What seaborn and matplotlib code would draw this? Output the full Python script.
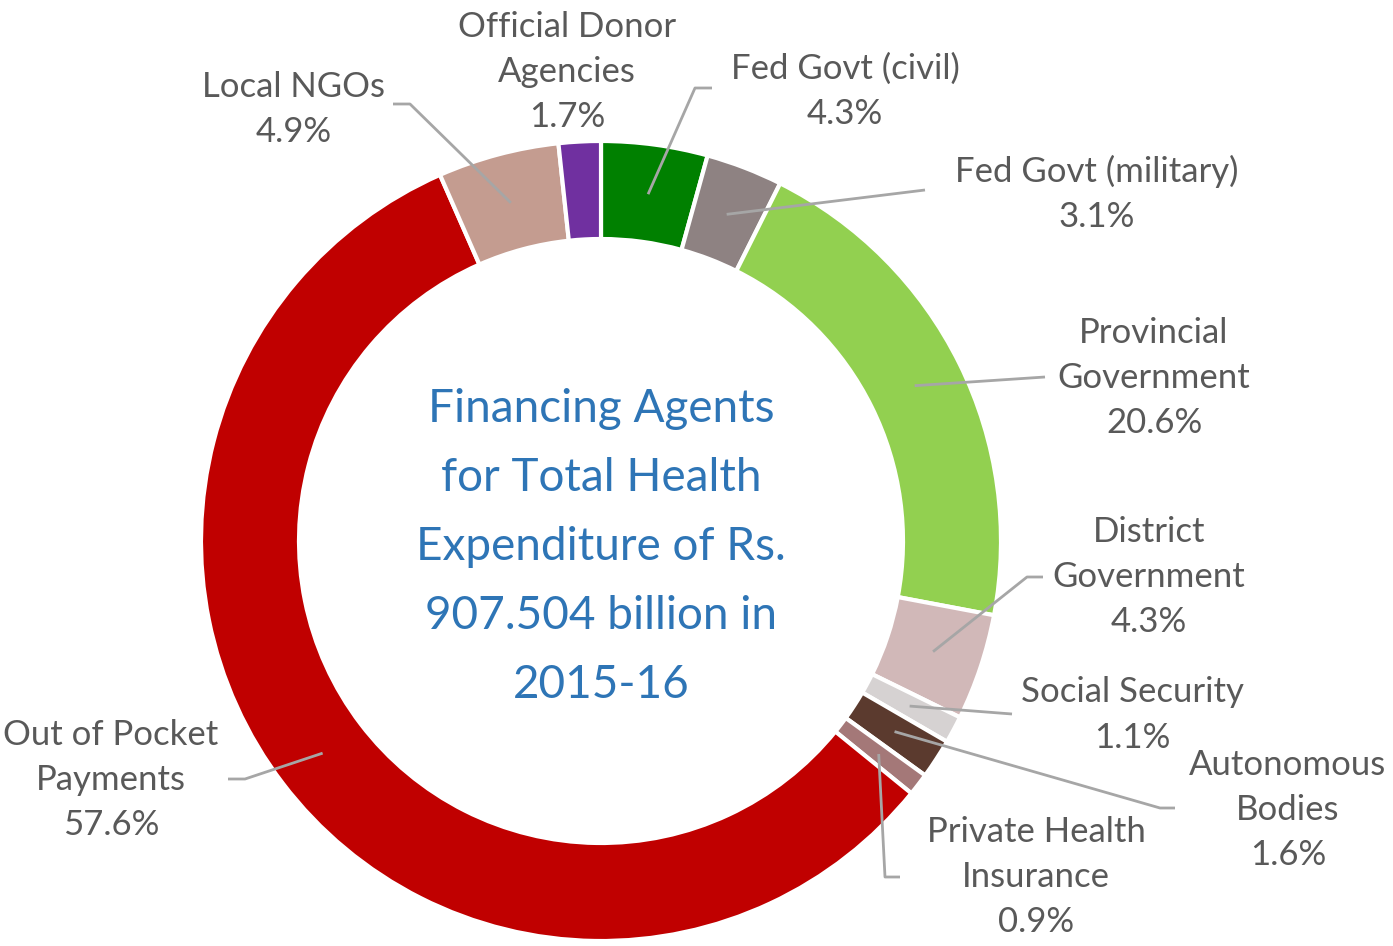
import matplotlib
matplotlib.use('Agg')
import matplotlib.pyplot as plt
import seaborn as sns
import numpy as np

# Financing agents, clockwise from 12 o'clock
agents = ["Fed Govt (civil)", "Fed Govt (military)", "Provincial\nGovernment",
          "District\nGovernment", "Social Security", "Autonomous\nBodies",
          "Private Health\nInsurance", "Out of Pocket\nPayments", "Local NGOs",
          "Official Donor\nAgencies"]
shares = [4.3, 3.1, 20.6, 4.3, 1.1, 1.6, 0.9, 57.6, 4.9, 1.7]
colors = ["#008000", "#8e8282", "#92d050", "#d1b8b8", "#d6d2d2", "#5b3a2e",
          "#a47878", "#c00000", "#c49c90", "#7030a0"]
center_title = "Financing Agents\nfor Total Health\nExpenditure of Rs.\n907.504 billion in\n2015-16"

# layout in pixel coords (x, y from top): label centre, line end, knee
label_pos = [(845, 91), (1097, 194), (1154, 378), (1149, 577), (1132, 715),
             (1288, 810), (1036, 877), (111, 780), (294, 110), (567, 72)]
line_end = [(712, 88), (925, 190), (1045, 377), (1043, 577), (1012, 714),
            (1175, 808), (900, 877), (228, 779), (393, 104), None]
line_knee = [(695, 88), None, None, (1027, 577), None,
             (1160, 808), (885, 877), (245, 779), (410, 104), None]

W, H = 1393, 946
CX, CY, R = 601, 541, 400

sns.set_theme(style="white")
plt.rcParams['font.family'] = ['Lato', 'DejaVu Sans']

fig = plt.figure(figsize=(W / 100, H / 100), dpi=100)
ax = fig.add_axes([0, 0, 1, 1])

def py(y):
    return H - y

ax.pie(shares, colors=colors, startangle=90, counterclock=False,
       radius=R, center=(CX, py(CY)),
       wedgeprops=dict(width=R * 0.245, edgecolor='white', linewidth=3))
# pie resets the limits, so set the pixel frame afterwards
ax.set_xlim(0, W)
ax.set_ylim(0, H)
ax.set_aspect('equal')
ax.axis('off')

total = sum(shares)
cum = np.cumsum([0] + shares[:-1])
for i, (name, val) in enumerate(zip(agents, shares)):
    lx, ly = label_pos[i]
    ax.text(lx, py(ly), f"{name}\n{val}%", ha='center', va='center',
            fontsize=25, color='#595959', linespacing=1.5)
    if line_end[i] is None:
        continue
    ang = np.deg2rad(90 - 360 * (cum[i] + val / 2) / total)
    sx = CX + 350 * np.cos(ang)
    sy = py(CY) + 350 * np.sin(ang)
    pts = [(sx, sy)]
    if line_knee[i] is not None:
        pts.append((line_knee[i][0], py(line_knee[i][1])))
    pts.append((line_end[i][0], py(line_end[i][1])))
    xs, ys = zip(*pts)
    ax.plot(xs, ys, color='#a6a6a6', lw=2, solid_capstyle='butt')

ax.text(CX, py(547), center_title, ha='center', va='center', fontsize=33,
        color='#2e75b6', linespacing=1.8)

plt.savefig("out.png", dpi=100)
plt.close()
